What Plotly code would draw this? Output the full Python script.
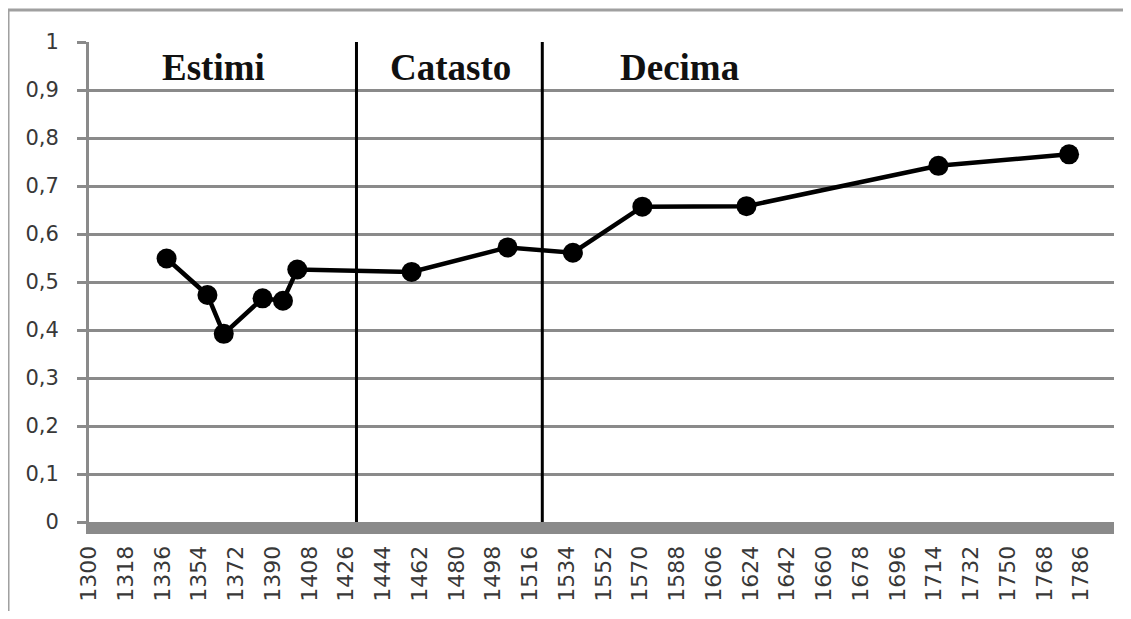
import plotly.graph_objects as go

# Data
years = [1338, 1358, 1366, 1385, 1395, 1402, 1458, 1505, 1537, 1571, 1622, 1716, 1780]
values = [0.549, 0.473, 0.392, 0.466, 0.461, 0.526, 0.521, 0.572, 0.561, 0.657, 0.658, 0.742, 0.766]

period_names = ["Estimi", "Catasto", "Decima"]
period_label_years = [1361, 1477, 1589]
period_boundaries = [1431, 1522]

x_tick_values = list(range(1300, 1787, 18))
x_tick_labels = [str(v) for v in x_tick_values]
y_tick_values = [0, 0.1, 0.2, 0.3, 0.4, 0.5, 0.6, 0.7, 0.8, 0.9, 1]
y_tick_labels = ["0", "0,1", "0,2", "0,3", "0,4", "0,5", "0,6", "0,7", "0,8", "0,9", "1"]

GRID = "#8a8a8a"

fig = go.Figure()
fig.add_trace(go.Scatter(
    x=years, y=values, mode="lines+markers",
    line=dict(color="black", width=4.5),
    marker=dict(color="black", size=20),
    showlegend=False, hoverinfo="x+y",
))

shapes = []
for b in period_boundaries:
    shapes.append(dict(type="line", xref="x", yref="y", x0=b, x1=b, y0=0, y1=1,
                       line=dict(color="black", width=3), layer="above"))
# outer chart frame (extends past the right and bottom edges, as in the reference)
shapes.append(dict(type="rect", xref="paper", yref="paper",
                   x0=-0.079, x1=1.1, y0=-0.3, y1=1.0667,
                   line=dict(color="#a0a0a0", width=3), layer="below"))

annotations = []
for name, yr in zip(period_names, period_label_years):
    annotations.append(dict(x=yr, y=0.947, xref="x", yref="y", text=f"<b>{name}</b>",
                            showarrow=False,
                            font=dict(family="Liberation Serif", size=37, color="#111111")))

fig.update_layout(
    width=1115, height=603,
    margin=dict(l=81, r=9, t=34, b=89),
    paper_bgcolor="white", plot_bgcolor="white",
    shapes=shapes, annotations=annotations,
    xaxis=dict(range=[1300, 1802], tickvals=x_tick_values, ticktext=x_tick_labels,
               tickangle=-90, showgrid=False, zeroline=False,
               showline=True, linecolor=GRID, linewidth=12,
               ticks="", ticklabelstandoff=3,
               tickfont=dict(family="DejaVu Sans", size=22, color="#383838")),
    yaxis=dict(range=[0, 1], tickvals=y_tick_values, ticktext=y_tick_labels,
               showgrid=True, gridcolor=GRID, gridwidth=3, zeroline=False,
               showline=True, linecolor=GRID, linewidth=3,
               ticks="outside", ticklen=9, tickwidth=3, tickcolor=GRID,
               ticklabelstandoff=14,
               tickfont=dict(family="DejaVu Sans", size=21, color="#383838")),
)

fig.write_html("out.html")
